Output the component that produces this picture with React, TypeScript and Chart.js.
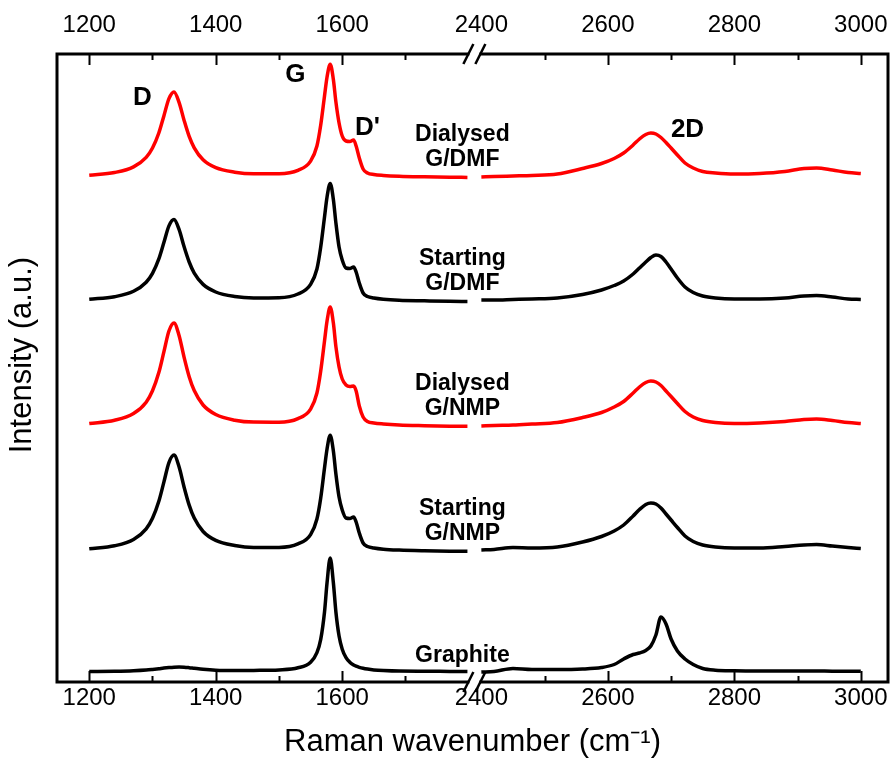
import React, { useEffect, useRef } from "react";
import { Chart, registerables } from "chart.js";

Chart.register(...registerables);

const FONT = "'Liberation Sans', Arial, Helvetica, sans-serif";
const RED = "#ff0000";
const BLACK = "#000000";

// Broken x axis: left segment ends at 1800 cm-1, right segment starts at 2380 cm-1
const BREAK_LO = 1800;
const BREAK_HI = 2380;
const SHIFT = BREAK_HI - BREAK_LO;
const X_MIN = 1149;
const X_MAX = 3043;

const tickLabels = [1200, 1400, 1600, 2400, 2600, 2800, 3000];
const majorTicks = [1200, 1400, 1600, 2600, 2800, 3000];
const minorTicks = [1300, 1500, 1700, 2500, 2700, 2900];

const leftWavenumbers = [1200, 1240, 1270, 1290, 1300, 1310, 1318, 1326, 1334, 1342, 1350, 1358, 1366, 1380, 1400, 1430, 1460, 1500, 1530, 1550, 1560, 1566, 1572, 1576, 1581, 1586, 1590, 1595, 1600, 1606, 1612, 1618, 1622, 1627, 1633, 1640, 1650, 1665, 1690, 1730, 1770, 1798];
const rightWavenumbers = [2400, 2420, 2450, 2480, 2520, 2560, 2590, 2610, 2625, 2640, 2650, 2660, 2668, 2676, 2684, 2692, 2700, 2710, 2722, 2735, 2750, 2770, 2800, 2840, 2880, 2910, 2930, 2955, 2980, 3000];

// Intensities (a.u.), relative to each spectrum's own baseline
const dialysedDmfLeft = [2.8, 5.5, 11.1, 20.6, 30.0, 45.0, 62.1, 79.4, 86.1, 75.7, 57.6, 41.6, 30.2, 18.2, 10.3, 5.8, 4.2, 4.3, 7.7, 16.9, 32, 53, 82, 101, 113.7, 98.5, 76.1, 55, 42, 37, 36.5, 38, 32, 20, 9, 5, 3.5, 2.6, 1.8, 1.2, 0.8, 0.6];
const dialysedDmfRight = [1, 1.5, 2, 2.5, 4, 9.5, 14.5, 19.5, 25, 33, 39, 43.5, 45, 44, 40.5, 35.5, 30, 23, 15, 10, 6.5, 5, 4, 4.5, 6.5, 9.5, 10, 8, 5.5, 4.5];

const startingDmfLeft = [2.7, 5.3, 10.7, 19.8, 28.7, 43.1, 59.5, 76.1, 82.5, 72.6, 55.2, 40.0, 28.9, 17.6, 10.0, 5.5, 4.1, 4.3, 8.0, 17.6, 33, 55, 85, 105, 118.5, 102.6, 79.1, 55, 42, 34, 33.5, 35, 30, 19, 9, 5.5, 4, 2.8, 1.8, 1.2, 0.7, 0.6];
const startingDmfRight = [2, 2, 2.5, 3, 4, 7.5, 12, 16.5, 21, 28, 34, 40, 44.5, 47, 45.5, 40, 33, 24, 15, 9.5, 6, 4, 3, 3, 4, 6, 6.5, 5, 3, 2.5];

const dialysedNmpLeft = [3.4, 6.7, 13.4, 24.8, 36.2, 54.4, 75.1, 96.0, 104.1, 91.5, 69.6, 50.3, 36.4, 22.0, 12.5, 6.8, 4.9, 4.8, 8.4, 17.9, 34, 56, 86, 106, 119.9, 103.9, 80.4, 60, 48, 42, 40.5, 41, 36, 21, 10, 5.5, 4, 3, 2, 1.3, 0.8, 0.7];
const dialysedNmpRight = [1, 1.5, 2, 3, 4.5, 9.5, 14.5, 20, 25.5, 34, 40, 44.5, 46, 45, 41.5, 36, 30.5, 23.5, 15.5, 10, 6.5, 4.5, 3.5, 4, 5.5, 7.5, 8, 6.5, 4.5, 3.5];

const startingNmpLeft = [3.2, 6.2, 12.5, 23.2, 33.7, 50.7, 69.9, 89.4, 96.9, 85.2, 64.8, 46.9, 33.9, 20.5, 11.6, 6.5, 4.5, 4.6, 8.1, 17.4, 33, 54, 84, 103, 116.7, 101.0, 78.0, 55, 42, 34, 33.5, 35, 30, 19, 9, 5.5, 4, 2.8, 1.9, 1.2, 0.8, 0.7];
const startingNmpRight = [2, 2.5, 4.5, 4, 5, 10, 15.5, 21, 27, 36, 42.5, 47.5, 49, 48, 44, 38, 32, 24.5, 16, 10.5, 7, 5, 4, 4, 5.5, 7, 7.5, 6, 4.5, 3.5];

const graphiteLeft = [0.5, 0.8, 1.3, 2.0, 2.6, 3.3, 3.9, 4.4, 4.8, 5.0, 4.8, 4.3, 3.7, 2.7, 1.8, 1.5, 1.6, 2.1, 4.2, 9.8, 19.4, 32.6, 60, 89.3, 114, 89.3, 60, 36, 22.8, 14.4, 9.8, 7.0, 5.8, 4.7, 3.7, 2.9, 2.1, 1.45, 0.9, 0.8, 0.6, 0.5];
const graphiteRight = [0, 0.5, 3.5, 2.5, 2.5, 3, 4.5, 7.5, 13, 17.5, 19, 21.5, 26, 37, 55, 48, 33, 21, 13, 7.5, 3.5, 1.8, 1.2, 1, 1, 1, 1, 0.8, 0.8, 0.8];

// Vertical stacking offsets (a.u.)
const sampleNames = [["Dialysed", "G/DMF"], ["Starting", "G/DMF"], ["Dialysed", "G/NMP"], ["Starting", "G/NMP"], ["Graphite"]];
const sampleOffsets = [504, 380, 255, 130, 10];
const sampleColors = [RED, BLACK, RED, BLACK, BLACK];
const leftSeries = [dialysedDmfLeft, startingDmfLeft, dialysedNmpLeft, startingNmpLeft, graphiteLeft];
const rightSeries = [dialysedDmfRight, startingDmfRight, dialysedNmpRight, startingNmpRight, graphiteRight];

const peakLabels = ["D", "G", "D'", "2D"];
const peakLabelX = [1284, 1526, 1640, 2726];
const peakLabelY = [584, 607, 554, 552];

const Y_MAX = 628;

const toVirtual = (x: number) => (x >= BREAK_HI ? x - SHIFT : x);
const toReal = (v: number) => (v > BREAK_LO ? v + SHIFT : v);

const breakVirtual = (toVirtual(leftWavenumbers[leftWavenumbers.length - 1]) + toVirtual(rightWavenumbers[0])) / 2;

const decorPlugin = {
  id: "decor",
  afterDraw(chart: any) {
    const { ctx, chartArea } = chart;
    const { left, right, top, bottom } = chartArea;
    const xs = chart.scales.x;
    const ys = chart.scales.y;
    ctx.save();
    // frame
    ctx.strokeStyle = BLACK;
    ctx.lineWidth = 3;
    ctx.strokeRect(left, top, right - left, bottom - top);
    // inward ticks
    ctx.lineWidth = 2;
    const drawTick = (v: number, len: number) => {
      const px = Math.round(xs.getPixelForValue(toVirtual(v))) + 0.5;
      ctx.beginPath();
      ctx.moveTo(px, bottom);
      ctx.lineTo(px, bottom - len);
      ctx.moveTo(px, top);
      ctx.lineTo(px, top + len);
      ctx.stroke();
    };
    majorTicks.forEach((v) => drawTick(v, 11));
    minorTicks.forEach((v) => drawTick(v, 6));
    // axis break marks
    const bx = xs.getPixelForValue(breakVirtual);
    [top, bottom].forEach((y) => {
      ctx.fillStyle = "#ffffff";
      ctx.fillRect(bx - 5, y - 3, 10, 6);
      ctx.strokeStyle = BLACK;
      ctx.lineWidth = 2.5;
      [-6, 6].forEach((dx) => {
        ctx.beginPath();
        ctx.moveTo(bx + dx - 5, y + 10);
        ctx.lineTo(bx + dx + 5, y - 10);
        ctx.stroke();
      });
    });
    // sample labels
    ctx.fillStyle = BLACK;
    ctx.textAlign = "center";
    ctx.textBaseline = "middle";
    ctx.font = `bold 23px ${FONT}`;
    const lx = xs.getPixelForValue(1790);
    sampleNames.forEach((lines, i) => {
      const off = sampleOffsets[i];
      if (lines.length === 2) {
        ctx.fillText(lines[0], lx, ys.getPixelForValue(off + 43));
        ctx.fillText(lines[1], lx, ys.getPixelForValue(off + 18.5));
      } else {
        ctx.fillText(lines[0], lx, ys.getPixelForValue(off + 16.5));
      }
    });
    // peak labels
    ctx.font = `bold 26px ${FONT}`;
    peakLabels.forEach((t, i) => {
      ctx.fillText(t, xs.getPixelForValue(toVirtual(peakLabelX[i])), ys.getPixelForValue(peakLabelY[i]));
    });
    ctx.restore();
  },
};

const xTicksCommon = {
  callback: (value: any) => String(toReal(Number(value))),
  color: BLACK,
  font: { size: 24, family: FONT },
  maxRotation: 0,
  autoSkip: false,
};

export default function App() {
  const canvasRef = useRef<HTMLCanvasElement | null>(null);

  useEffect(() => {
    const canvas = canvasRef.current;
    if (!canvas) return;
    Chart.defaults.font.family = FONT;

    const datasets = sampleNames.map((name, i) => {
      const off = sampleOffsets[i];
      const pts: any[] = leftWavenumbers.map((x, j) => ({ x: toVirtual(x), y: off + leftSeries[i][j] }));
      pts.push({ x: breakVirtual, y: null });
      rightWavenumbers.forEach((x, j) => pts.push({ x: toVirtual(x), y: off + rightSeries[i][j] }));
      return {
        label: name.join(" "),
        data: pts,
        borderColor: sampleColors[i],
        backgroundColor: sampleColors[i],
        borderWidth: 3.5,
        pointRadius: 0,
        fill: false,
        cubicInterpolationMode: "monotone" as const,
        spanGaps: false,
      };
    });

    const fitX = (h: number) => (s: any) => {
      s.height = h;
      s.paddingLeft = 0;
      s.paddingRight = 0;
    };

    const chart = new Chart(canvas, {
      type: "line",
      data: { datasets },
      options: {
        responsive: false,
        animation: false,
        parsing: false,
        normalized: true,
        layout: { padding: { left: 0, right: 2, top: 0, bottom: 0 } },
        plugins: { legend: { display: false }, tooltip: { enabled: false } },
        scales: {
          x: {
            type: "linear",
            position: "bottom",
            min: toVirtual(X_MIN),
            max: toVirtual(X_MAX),
            afterBuildTicks: (s: any) => {
              s.ticks = tickLabels.map((v) => ({ value: toVirtual(v) }));
            },
            ticks: { ...xTicksCommon, padding: 2 },
            grid: { display: false, drawTicks: false },
            border: { display: false },
            title: {
              display: true,
              text: "Raman wavenumber (cm\u207B\u00B9)",
              color: BLACK,
              font: { size: 31, family: FONT, lineHeight: 1 },
              padding: 0,
            },
            afterFit: fitX(76),
          },
          x2: {
            type: "linear",
            position: "top",
            min: toVirtual(X_MIN),
            max: toVirtual(X_MAX),
            afterBuildTicks: (s: any) => {
              s.ticks = tickLabels.map((v) => ({ value: toVirtual(v) }));
            },
            ticks: { ...xTicksCommon, padding: 14 },
            grid: { display: false, drawTicks: false },
            border: { display: false },
            afterFit: fitX(54),
          },
          y: {
            type: "linear",
            min: 0,
            max: Y_MAX,
            ticks: { display: false },
            grid: { display: false, drawTicks: false },
            border: { display: false },
            title: {
              display: true,
              text: "   Intensity (a.u.)",
              color: BLACK,
              font: { size: 31, family: FONT, lineHeight: 1.2 },
              padding: { top: 4, bottom: 0 },
            },
            afterFit: (s: any) => {
              s.width = 57;
              s.paddingTop = 0;
              s.paddingBottom = 0;
            },
          },
        },
      },
      plugins: [decorPlugin],
    });
    return () => chart.destroy();
  }, []);

  return (
    <div style={{ position: "fixed", left: 0, top: 0, width: 890, height: 758, background: "#ffffff" }}>
      <canvas ref={canvasRef} width={890} height={758} style={{ display: "block" }} />
    </div>
  );
}
